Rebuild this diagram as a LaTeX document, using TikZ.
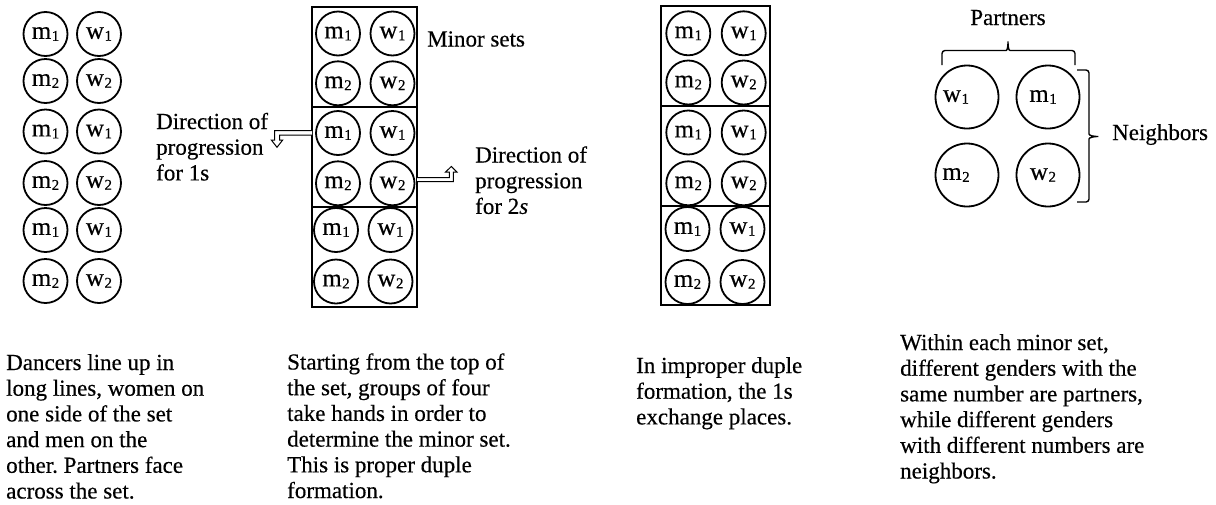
\documentclass[tikz,border=0pt]{standalone}
\usepackage{fontspec}
\setmainfont{Liberation Serif}[FakeBold=0.4]
\frenchspacing
\newcommand\dlab[2]{#1\kern0.5pt\raisebox{-2pt}{\fontsize{15}{15}\selectfont #2}}
\newcommand\stk[1]{\vtop{\baselineskip=25.7pt\lineskiplimit=-30pt\lineskip=0pt\halign{##\hfil\cr#1\crcr}}}
\begin{document}
\begin{tikzpicture}[x=1pt,y=-1pt,
  dancer/.style={circle, draw, line width=1.8pt, minimum size=44pt, inner sep=0pt, font=\fontsize{25}{25}\selectfont},
  bigdancer/.style={dancer, minimum size=63pt},
  setbox/.style={draw, line width=1.8pt, minimum height=100pt, inner sep=0pt},
  txt/.style={anchor=base west, inner sep=0pt, font=\fontsize{23}{25.7}\selectfont},
  brace/.style={line width=1.4pt, rounded corners=3pt},
  hollow/.style={line width=1pt, fill=white, line join=miter}]
\useasboundingbox (0,0) rectangle (1216,504);

% ---- column 1: long lines
\foreach \yy/\n/\k in {34/1/1,81/2/2,131.5/1/3,183/2/4,230/1/5,281/2/6}{
  \node[dancer] (Lm\k) at (45.5,\yy) {\dlab{m}{\n}};
  \node[dancer] (Lw\k) at (99,\yy) {\dlab{w}{\n}};
}

% ---- column 2: proper duple
\node[setbox, minimum width=105pt] (PA) at (364.5,57) {};
\node[setbox, minimum width=105pt] (PB) at (364.5,157) {};
\node[setbox, minimum width=105pt] (PC) at (364.5,257) {};
\foreach \yy/\n/\k/\xm/\xw in {33.5/1/1/338/392.5,83.3/2/2/338/392.5,133/1/3/338/392.5,183.3/2/4/338/392.5,230/1/5/336/390.5,281.5/2/6/336/390.5}{
  \node[dancer] (Pm\k) at (\xm,\yy) {\dlab{m}{\n}};
  \node[dancer] (Pw\k) at (\xw,\yy) {\dlab{w}{\n}};
}
\node[txt] (minor) at (427,46.5) {Minor sets};
\node[txt] (dir1) at (156,129) {\stk{Direction of\cr progression\cr for 1s}};
\node[txt] (dir2) at (475,162.5) {\stk{Direction of\cr progression\cr for 2\textit{s}}};
\draw[hollow] (312,130.7) -- (274.5,130.7) -- (274.5,140) -- (271.3,140) -- (277,147.3) -- (282.7,140) -- (279.5,140) -- (279.5,135.2) -- (312,135.2);
\draw[hollow] (417,181.7) -- (453.3,181.7) -- (453.3,172) -- (457,172) -- (451.3,166.5) -- (445.6,172) -- (449.3,172) -- (449.3,177.7) -- (417,177.7);

% ---- column 3: improper duple
\node[setbox, minimum width=109pt] (IA) at (715.5,56) {};
\node[setbox, minimum width=109pt] (IB) at (715.5,156) {};
\node[setbox, minimum width=109pt, minimum height=99pt] (IC) at (715.5,255.5) {};
\foreach \yy/\n/\k/\xm/\xw in {33.3/1/1/688.3/743.7,82.5/2/2/688.3/743.7,132.5/1/3/688.3/743.7,183.3/2/4/688.3/743.7,229/1/5/687.5/742.5,282/2/6/687.5/742.5}{
  \node[dancer] (Im\k) at (\xm,\yy) {\dlab{m}{\n}};
  \node[dancer] (Iw\k) at (\xw,\yy) {\dlab{w}{\n}};
}

% ---- column 4: partners / neighbors
\node[bigdancer] (Bw1) at (967,97) {\dlab{w}{1}\kern22pt};
\node[bigdancer] (Bm1) at (1048,97) {\dlab{m}{1}\kern10pt};
\node[bigdancer] (Bm2) at (967,175) {\dlab{m}{2}\kern22pt};
\node[bigdancer] (Bw2) at (1048,175) {\dlab{w}{2}\kern10pt};
\draw[brace] (942,65) -- (942,50.5) -- (1003,50.5) to[out=0,in=-90] (1008,39.5) to[out=-90,in=180] (1013,50.5) -- (1075,50.5) -- (1075,65);
\draw[brace] (1077,70) -- (1089,70) -- (1089,131) to[out=-90,in=180] (1100,136.5) to[out=180,in=90] (1089,142) -- (1089,202) -- (1077,202);
\node[txt, anchor=base] (partners) at (1008,25) {Partners};
\node[txt] (neighbors) at (1112,140) {Neighbors};

% ---- captions
\node[txt] (cap1) at (6,370) {\stk{Dancers line up in\cr long lines, women on\cr one side of the set\cr and men on the\cr other. Partners face\cr across the set.}};
\node[txt] (cap2) at (287,369.5) {\stk{Starting from the top of\cr the set, groups of four\cr take hands in order to\cr determine the minor set.\cr This is proper duple\cr formation.}};
\node[txt] (cap3) at (636,373) {\stk{In improper duple\cr formation, the 1s\cr exchange places.}};
\node[txt] (cap4) at (900,350) {\stk{Within each minor set,\cr different genders with the\cr same number are partners,\cr while different genders\cr with different numbers are\cr neighbors.}};
\end{tikzpicture}
\end{document}
